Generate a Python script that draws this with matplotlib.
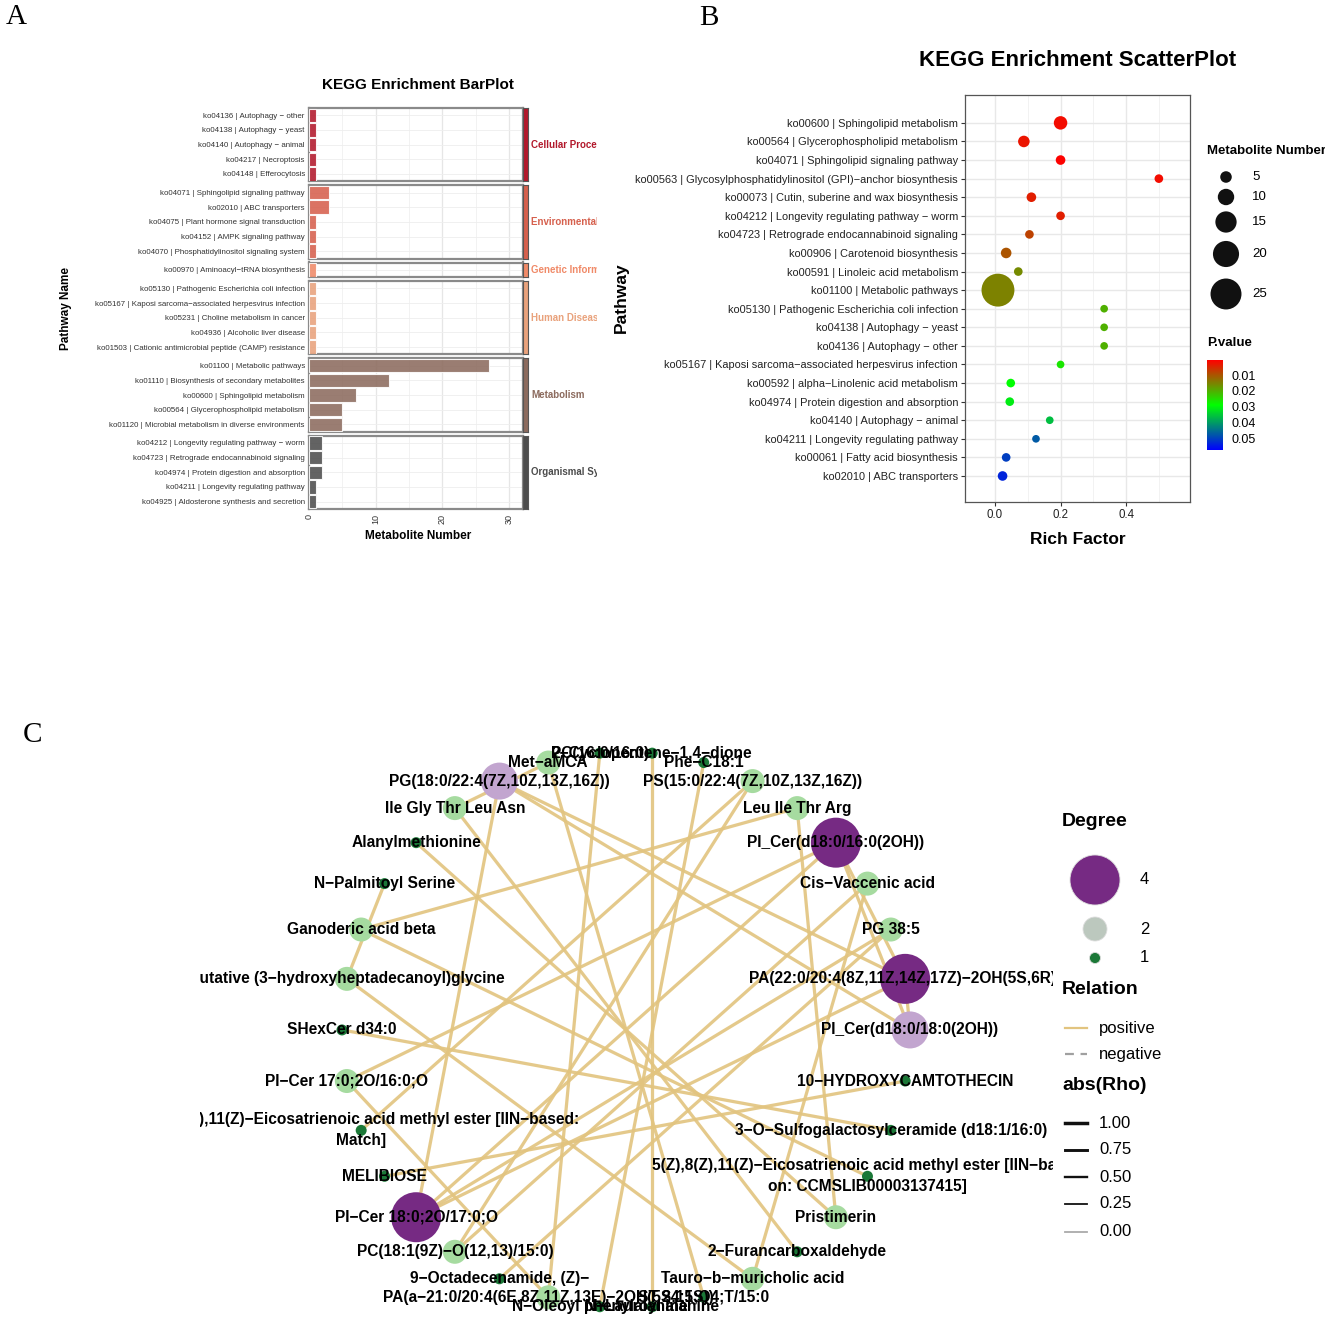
import numpy as np
import matplotlib
matplotlib.use('Agg')
import matplotlib.pyplot as plt
from matplotlib.colors import LinearSegmentedColormap, Normalize
from matplotlib import font_manager as fm

W, H = 1325, 1321
fig = plt.figure(figsize=(W / 100, H / 100), dpi=100)

_names = {f.name for f in fm.fontManager.ttflist}
SANS = ['Liberation Sans', 'DejaVu Sans']
NARROW = (['Liberation Sans Narrow'] if 'Liberation Sans Narrow' in _names else []) + SANS
SERIF = ['Liberation Serif', 'DejaVu Serif']
plt.rcParams['font.family'] = SANS


def axpx(l, t, r, b):
    return fig.add_axes([l / W, 1 - b / H, (r - l) / W, (b - t) / H])


def px2fig(x, y):
    return x / W, 1 - y / H

# ---------------------------------------------------------------- data A
bar_groups = ["Cellular Processes", "Environmental Information Processing",
              "Genetic Information Processing", "Human Diseases",
              "Metabolism", "Organismal Systems"]
bar_group_colors = ["#B2182B", "#D6604D", "#F08A68", "#E9A27C", "#8C6B5E", "#4D4D4D"]
bar_labels = [
    ["ko04136 | Autophagy − other", "ko04138 | Autophagy − yeast",
     "ko04140 | Autophagy − animal", "ko04217 | Necroptosis", "ko04148 | Efferocytosis"],
    ["ko04071 | Sphingolipid signaling pathway", "ko02010 | ABC transporters",
     "ko04075 | Plant hormone signal transduction", "ko04152 | AMPK signaling pathway",
     "ko04070 | Phosphatidylinositol signaling system"],
    ["ko00970 | Aminoacyl−tRNA biosynthesis"],
    ["ko05130 | Pathogenic Escherichia coli infection",
     "ko05167 | Kaposi sarcoma−associated herpesvirus infection",
     "ko05231 | Choline metabolism in cancer", "ko04936 | Alcoholic liver disease",
     "ko01503 | Cationic antimicrobial peptide (CAMP) resistance"],
    ["ko01100 | Metabolic pathways", "ko01110 | Biosynthesis of secondary metabolites",
     "ko00600 | Sphingolipid metabolism", "ko00564 | Glycerophospholipid metabolism",
     "ko01120 | Microbial metabolism in diverse environments"],
    ["ko04212 | Longevity regulating pathway − worm",
     "ko04723 | Retrograde endocannabinoid signaling",
     "ko04974 | Protein digestion and absorption", "ko04211 | Longevity regulating pathway",
     "ko04925 | Aldosterone synthesis and secretion"],
]
bar_values = [[1, 1, 1, 1, 1], [3, 3, 1, 1, 1], [1], [1, 1, 1, 1, 1],
              [27, 12, 7, 5, 5], [2, 2, 2, 1, 1]]
bar_xticks = [0, 10, 20, 30]

# ---------------------------------------------------------------- data B
kegg_terms = [
    "ko00600 | Sphingolipid metabolism", "ko00564 | Glycerophospholipid metabolism",
    "ko04071 | Sphingolipid signaling pathway",
    "ko00563 | Glycosylphosphatidylinositol (GPI)−anchor biosynthesis",
    "ko00073 | Cutin, suberine and wax biosynthesis",
    "ko04212 | Longevity regulating pathway − worm",
    "ko04723 | Retrograde endocannabinoid signaling", "ko00906 | Carotenoid biosynthesis",
    "ko00591 | Linoleic acid metabolism", "ko01100 | Metabolic pathways",
    "ko05130 | Pathogenic Escherichia coli infection", "ko04138 | Autophagy − yeast",
    "ko04136 | Autophagy − other", "ko05167 | Kaposi sarcoma−associated herpesvirus infection",
    "ko00592 | alpha−Linolenic acid metabolism", "ko04974 | Protein digestion and absorption",
    "ko04140 | Autophagy − animal", "ko04211 | Longevity regulating pathway",
    "ko00061 | Fatty acid biosynthesis", "ko02010 | ABC transporters"]
rich_factor = [0.2, 0.088, 0.2, 0.5, 0.111, 0.2, 0.105, 0.034, 0.071, 0.009,
               0.333, 0.333, 0.333, 0.2, 0.048, 0.045, 0.167, 0.125, 0.034, 0.023]
met_number = [7, 5, 3, 2, 3, 2, 2, 4, 2, 27, 1, 1, 1, 1, 2, 2, 1, 1, 2, 3]
p_value = [0.002, 0.003, 0.001, 0.002, 0.004, 0.004, 0.008, 0.010, 0.016, 0.015,
           0.020, 0.020, 0.020, 0.026, 0.029, 0.031, 0.036, 0.047, 0.050, 0.053]
size_breaks = [5, 10, 15, 20, 25]
p_breaks = [0.01, 0.02, 0.03, 0.04, 0.05]

# ---------------------------------------------------------------- data C
node_names = [
    "PI_Cer(d18:0/18:0(2OH))", "PA(22:0/20:4(8Z,11Z,14Z,17Z)−2OH(5S,6R))", "PG 38:5",
    "Cis−Vaccenic acid", "PI_Cer(d18:0/16:0(2OH))", "Leu Ile Thr Arg",
    "PS(15:0/22:4(7Z,10Z,13Z,16Z))", "Phe−C18:1", "2−Cyclopentene−1,4−dione",
    "PC(16:0/16:0)", "Met−aMCA", "PG(18:0/22:4(7Z,10Z,13Z,16Z))", "Ile Gly Thr Leu Asn",
    "Alanylmethionine", "N−Palmitoyl Serine", "Ganoderic acid beta",
    "putative (3−hydroxyheptadecanoyl)glycine", "SHexCer d34:0", "PI−Cer 17:0;2O/16:0;O",
    "5(Z),8(Z),11(Z)−Eicosatrienoic acid methyl ester [IIN−based:\nMatch]",
    "MELIBIOSE", "PI−Cer 18:0;2O/17:0;O", "PC(18:1(9Z)−O(12,13)/15:0)",
    "9−Octadecenamide, (Z)−", "PA(a−21:0/20:4(6E,8Z,11Z,13E)−2OH(5S,15S))",
    "N−Oleoyl phenylalanine", "N−Lauroyl alanine", "ST 24:1;O4;T/15:0",
    "Tauro−b−muricholic acid", "2−Furancarboxaldehyde", "Pristimerin",
    "5(Z),8(Z),11(Z)−Eicosatrienoic acid methyl ester [IIN−based\non: CCMSLIB00003137415]",
    "3−O−Sulfogalactosylceramide (d18:1/16:0)", "10−HYDROXYCAMTOTHECIN"]
edge_source = [11, 18, 18, 17, 14, 15, 15, 4, 12, 13, 5, 12, 16, 8, 11,
               11, 20, 23, 25, 27, 6, 9, 19, 3, 3, 21, 21, 21, 1, 1]
edge_target = [21, 4, 24, 32, 16, 5, 31, 0, 10, 30, 30, 29, 28, 26, 1,
               0, 33, 2, 7, 10, 22, 24, 6, 28, 22, 1, 4, 2, 0, 4]
edge_rho = [0.9] * len(edge_source)
degree_colors = {1: "#1B7837", 2: "#A6DBA0", 3: "#C2A5CF", 4: "#762A83"}
degree_breaks = [4, 2, 1]
rho_breaks = [1.00, 0.75, 0.50, 0.25, 0.00]

EDGE_COL = "#E2C47F"

# ================================================================ Panel A
unit, gap, top = 14.65, 4.0, 108.0
t = top
n_groups = len(bar_groups)
for g in range(n_groups):
    vals = bar_values[g]
    labs = bar_labels[g]
    col = bar_group_colors[g]
    n = len(vals)
    b = t + n * unit
    ax = axpx(309, t, 523, b)
    yy = np.arange(n)
    ax.barh(yy, vals, height=0.92, color=col, alpha=0.88, edgecolor='white',
            linewidth=0.8, zorder=3)
    ax.set_xlim(0, 32.1)
    ax.set_ylim(n - 0.5, -0.5)
    ax.set_yticks(yy)
    ax.set_yticklabels(labs, fontsize=5.7, color='#333333')
    ax.tick_params(axis='y', length=0, pad=3)
    ax.set_xticks(bar_xticks)
    ax.set_xticks([5, 15, 25], minor=True)
    ax.grid(True, which='major', axis='x', color='#E6E6E6', lw=0.9, zorder=0)
    ax.grid(True, which='minor', axis='x', color='#F0F0F0', lw=0.6, zorder=0)
    ax.grid(True, which='major', axis='y', color='#EEEEEE', lw=0.6, zorder=0)
    ax.tick_params(axis='x', which='both', length=0)
    for s in ax.spines.values():
        s.set_color('#8A8A8A')
        s.set_linewidth(1.6)
    if g == n_groups - 1:
        ax.set_xticklabels([str(v) for v in bar_xticks], rotation=90, fontsize=6.5,
                           color='#333333')
        ax.tick_params(axis='x', pad=4)
    else:
        ax.set_xticklabels([])
    sa = axpx(523, t, 527.5, b)
    sa.set_facecolor(col)
    sa.set_xticks([])
    sa.set_yticks([])
    for s in sa.spines.values():
        s.set_color('#555555')
        s.set_linewidth(0.8)
    la = axpx(528, t, 597, b)
    la.axis('off')
    la.text(0.05, 0.5, bar_groups[g], transform=la.transAxes, ha='left', va='center',
            fontsize=7.0, weight='bold', color=col, clip_on=True)
    t = b + gap

fig.text(*px2fig(418, 85), "KEGG Enrichment BarPlot", ha='center', va='center',
         fontsize=11, weight='bold')
fig.text(*px2fig(66, 308), "Pathway Name", ha='center', va='center', rotation=90,
         fontsize=8.5, weight='bold')
fig.text(*px2fig(418, 536), "Metabolite Number", ha='center', va='center',
         fontsize=8.5, weight='bold')

# ================================================================ Panel B
cmap = LinearSegmentedColormap.from_list('rgb3', ['#FF0000', '#00FF00', '#0000FF'])
norm = Normalize(0.0006, 0.057)


def size_pts2(n):
    d_px = 6.7 + 0.97 * np.asarray(n, dtype=float)
    return (d_px * 0.72) ** 2


axB = axpx(965, 95, 1190, 502)
ypos = np.arange(len(kegg_terms))
order = np.argsort(met_number)[::-1]
axB.scatter(np.array(rich_factor)[order], ypos[order], s=size_pts2(np.array(met_number)[order]),
            c=np.array(p_value)[order], cmap=cmap, norm=norm, zorder=3, edgecolors='none')
axB.set_xlim(-0.0916, 0.595)
axB.set_ylim(len(kegg_terms) - 1 + 1.4, -1.5)
axB.set_yticks(ypos)
axB.set_yticklabels(kegg_terms, fontsize=7.9, family=NARROW, color='#222222')
axB.set_xticks([0.0, 0.2, 0.4])
axB.set_xticklabels(["0.0", "0.2", "0.4"], fontsize=8.3, family=NARROW, color='#222222')
axB.set_xticks([0.1, 0.3, 0.5], minor=True)
axB.tick_params(axis='both', which='major', length=3, color='#333333', width=0.8, pad=2)
axB.tick_params(axis='x', which='minor', length=0)
axB.grid(True, which='major', color='#E8E8E8', lw=1.0, zorder=0)
axB.grid(True, which='minor', axis='x', color='#F2F2F2', lw=0.7, zorder=0)
for s in axB.spines.values():
    s.set_color('#555555')
    s.set_linewidth(0.9)

fig.text(*px2fig(1078, 60), "KEGG Enrichment ScatterPlot", ha='center', va='center',
         fontsize=16, weight='bold', family=NARROW)
fig.text(*px2fig(621, 298), "Pathway", ha='center', va='center', rotation=90,
         fontsize=12.5, weight='bold', family=NARROW)
fig.text(*px2fig(1078, 540), "Rich Factor", ha='center', va='center',
         fontsize=12.5, weight='bold', family=NARROW)

# size legend
fig.text(*px2fig(1207, 151), "Metabolite Number", ha='left', va='center',
         fontsize=9.5, weight='bold', family=NARROW)
axS = axpx(1205, 160, 1290, 320)
axS.axis('off')
axS.set_xlim(1205, 1290)
axS.set_ylim(320, 160)
leg_y = [177, 197, 222, 254, 294]
axS.scatter([1226] * len(size_breaks), leg_y, s=size_pts2(size_breaks), color='#111111',
            edgecolors='none')
for yv, lab in zip(leg_y, size_breaks):
    axS.text(1252, yv, str(lab), ha='left', va='center', fontsize=9.5, family=NARROW)

# colour bar
fig.text(*px2fig(1207, 343), "P.value", ha='left', va='center',
         fontsize=9.5, weight='bold', family=NARROW)
cax = axpx(1207, 360, 1223, 450)
sm = plt.cm.ScalarMappable(norm=norm, cmap=cmap)
cb = fig.colorbar(sm, cax=cax)
cb.outline.set_visible(False)
cax.invert_yaxis()
cb.set_ticks(p_breaks)
cb.set_ticklabels([f"{v:.2f}" for v in p_breaks])
cax.tick_params(length=3, color='white', width=0.8, labelsize=9, pad=3)
for lbl in cax.get_yticklabels():
    lbl.set_family(NARROW)

# ================================================================ Panel C
axC = axpx(200, 740, 1053, 1321)
axC.axis('off')
axC.set_xlim(-1.5, 1.5035)
axC.set_ylim(-1.047, 1.043)
n_nodes = len(node_names)
theta = 2 * np.pi * np.arange(n_nodes) / n_nodes
nx, ny = np.cos(theta), np.sin(theta)
deg = np.bincount(np.r_[edge_source, edge_target], minlength=n_nodes)

for s_, t_, r_ in zip(edge_source, edge_target, edge_rho):
    axC.plot([nx[s_], nx[t_]], [ny[s_], ny[t_]], color=EDGE_COL, lw=0.9 + 1.6 * r_,
             alpha=0.9, zorder=1, solid_capstyle='butt')


def node_size(d):
    d_px = 11 + 13 * (np.asarray(d, dtype=float) - 1)
    return (d_px * 0.72) ** 2


axC.scatter(nx, ny, s=node_size(deg), c=[degree_colors[d] for d in deg], zorder=2,
            edgecolors='none')
for i, name in enumerate(node_names):
    axC.text(nx[i], ny[i], name, ha='center', va='center', fontsize=11.2, weight='bold',
             family=SANS, zorder=3, clip_on=True, linespacing=1.5)

# legend C
axL = axpx(1055, 795, 1325, 1260)
axL.axis('off')
axL.set_xlim(1055, 1325)
axL.set_ylim(1260, 795)
axL.text(1062, 822, "Degree", ha='left', va='center', fontsize=14, weight='bold')
leg_deg_y = [880, 929, 958]
leg_deg_col = ["#762A83", "#BCC8BE", "#1B7837"]
axL.scatter([1095] * 3, leg_deg_y, s=node_size(degree_breaks), c=leg_deg_col,
            edgecolors='#dddddd', linewidths=0.6)
for yv, lab in zip(leg_deg_y, degree_breaks):
    axL.text(1140, yv, str(lab), ha='left', va='center', fontsize=12)
axL.text(1062, 990, "Relation", ha='left', va='center', fontsize=14, weight='bold')
axL.plot([1065, 1087], [1028, 1028], color=EDGE_COL, lw=1.6)
axL.text(1099, 1028, "positive", ha='left', va='center', fontsize=12)
axL.plot([1065, 1087], [1054, 1054], color='#A0A0A0', lw=1.6, ls=(0, (4, 3)))
axL.text(1099, 1054, "negative", ha='left', va='center', fontsize=12)
axL.text(1062, 1085, "abs(Rho)", ha='left', va='center', fontsize=14, weight='bold')
rho_y = [1123, 1150, 1177, 1204, 1232]
for yv, r_ in zip(rho_y, rho_breaks):
    col = '#111111' if r_ > 0 else '#AAAAAA'
    axL.plot([1065, 1087], [yv, yv], color=col, lw=0.9 + 1.6 * r_ if r_ > 0 else 1.3)
    axL.text(1099, yv, f"{r_:.2f}", ha='left', va='center', fontsize=12)

# panel letters
fig.text(*px2fig(16, 17), "A", ha='center', va='center', fontsize=21, family=SERIF)
fig.text(*px2fig(709, 18), "B", ha='center', va='center', fontsize=21, family=SERIF)
fig.text(*px2fig(33, 735), "C", ha='center', va='center', fontsize=21, family=SERIF)

fig.savefig('out.png', dpi=100)
